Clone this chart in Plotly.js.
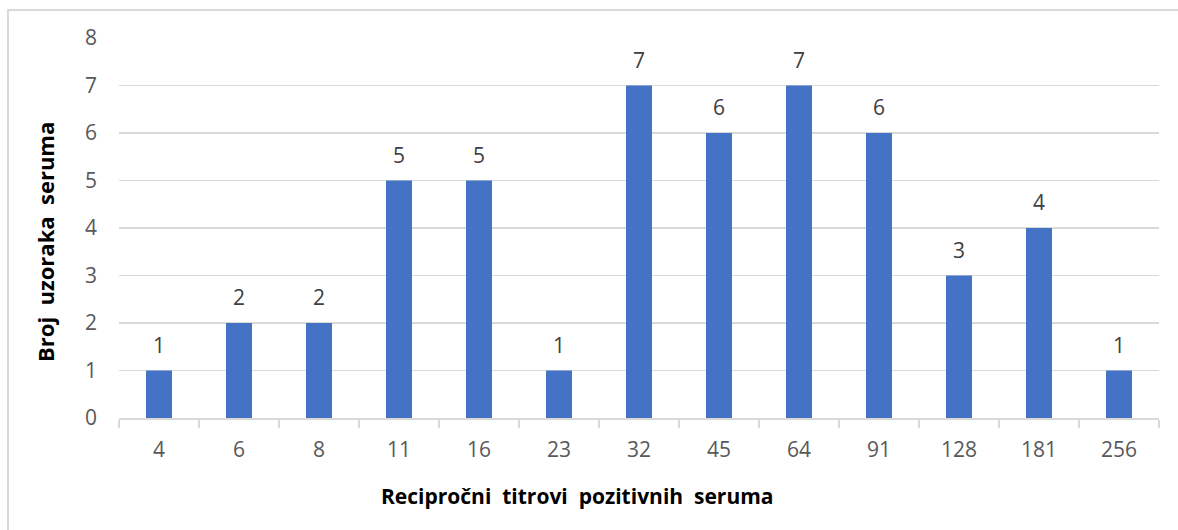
<!DOCTYPE html>
<html>
<head>
<meta charset="utf-8">
<script src="https://cdn.plot.ly/plotly-3.0.1.min.js"></script>
<style>
  html, body { margin: 0; padding: 0; background: #fff; overflow: hidden; }
  #frame { position: absolute; left: 7px; top: 9px; width: 1300px; height: 700px; border: 2px solid #d9d9d9; box-sizing: border-box; }
  #chart { position: absolute; left: 0; top: 0; width: 1178px; height: 530px; }
</style>
</head>
<body>
<div id="frame"></div>
<div id="chart"></div>
<script>
const categories = ["4", "6", "8", "11", "16", "23", "32", "45", "64", "91", "128", "181", "256"];
const counts = [1, 2, 2, 5, 5, 1, 7, 6, 7, 6, 3, 4, 1];
const yTicks = [0, 1, 2, 3, 4, 5, 6, 7, 8];
const xTitle = "Recipročni titrovi pozitivnih seruma";
const yTitle = "Broj uzoraka seruma";

const font = "Open Sans, Liberation Sans, sans-serif";
const wide = s => s.split(" ").join("&nbsp; ");

const trace = {
  type: "bar",
  x: categories,
  y: counts,
  marker: { color: "#4472C4" },
  hoverinfo: "x+y"
};

// value labels above the bars; x given as the category index on the category axis
const labelAnnotations = counts.map((v, i) => ({
  x: i,
  y: v,
  xref: "x", yref: "y",
  text: String(v),
  showarrow: false,
  xanchor: "center", yanchor: "middle",
  yshift: 26,
  font: { family: font, size: 21, color: "#404040" }
}));

const layout = {
  width: 1178,
  height: 530,
  margin: { l: 119, r: 19, t: 38, b: 112 },
  paper_bgcolor: "rgba(0,0,0,0)",
  plot_bgcolor: "rgba(0,0,0,0)",
  bargap: 0.675,
  showlegend: false,
  xaxis: {
    type: "category",
    categoryorder: "array",
    categoryarray: categories,
    range: [-0.5, categories.length - 0.5],
    tickson: "boundaries",
    ticks: "outside",
    ticklen: 8,
    tickcolor: "#d9d9d9",
    tickwidth: 2,
    showline: true,
    linecolor: "#d9d9d9",
    linewidth: 2,
    showgrid: false,
    ticklabelstandoff: 12,
    tickangle: 0,
    tickfont: { family: font, size: 21, color: "#595959" }
  },
  yaxis: {
    range: [0, 8],
    tickvals: yTicks,
    showgrid: true,
    gridcolor: "#d9d9d9",
    gridwidth: 1.5,
    zeroline: false,
    showline: false,
    ticks: "",
    ticklabelstandoff: 21,
    tickfont: { family: font, size: 21, color: "#595959" }
  },
  annotations: labelAnnotations.concat([
    {
      text: "<b>" + wide(xTitle) + "</b>",
      xref: "paper", yref: "paper",
      x: (577 - 119) / 1040, y: -(496 - 418) / 380,
      xanchor: "center", yanchor: "middle",
      showarrow: false,
      font: { family: font, size: 21, color: "#000000" }
    },
    {
      text: "<b>" + wide(yTitle) + "</b>",
      xref: "paper", yref: "paper",
      x: -(119 - 45) / 1040, y: (418 - 242) / 380,
      xanchor: "center", yanchor: "middle",
      textangle: -90,
      showarrow: false,
      font: { family: font, size: 22, color: "#000000" }
    }
  ])
};

Plotly.newPlot("chart", [trace], layout, { displayModeBar: false, staticPlot: true });
</script>
</body>
</html>
